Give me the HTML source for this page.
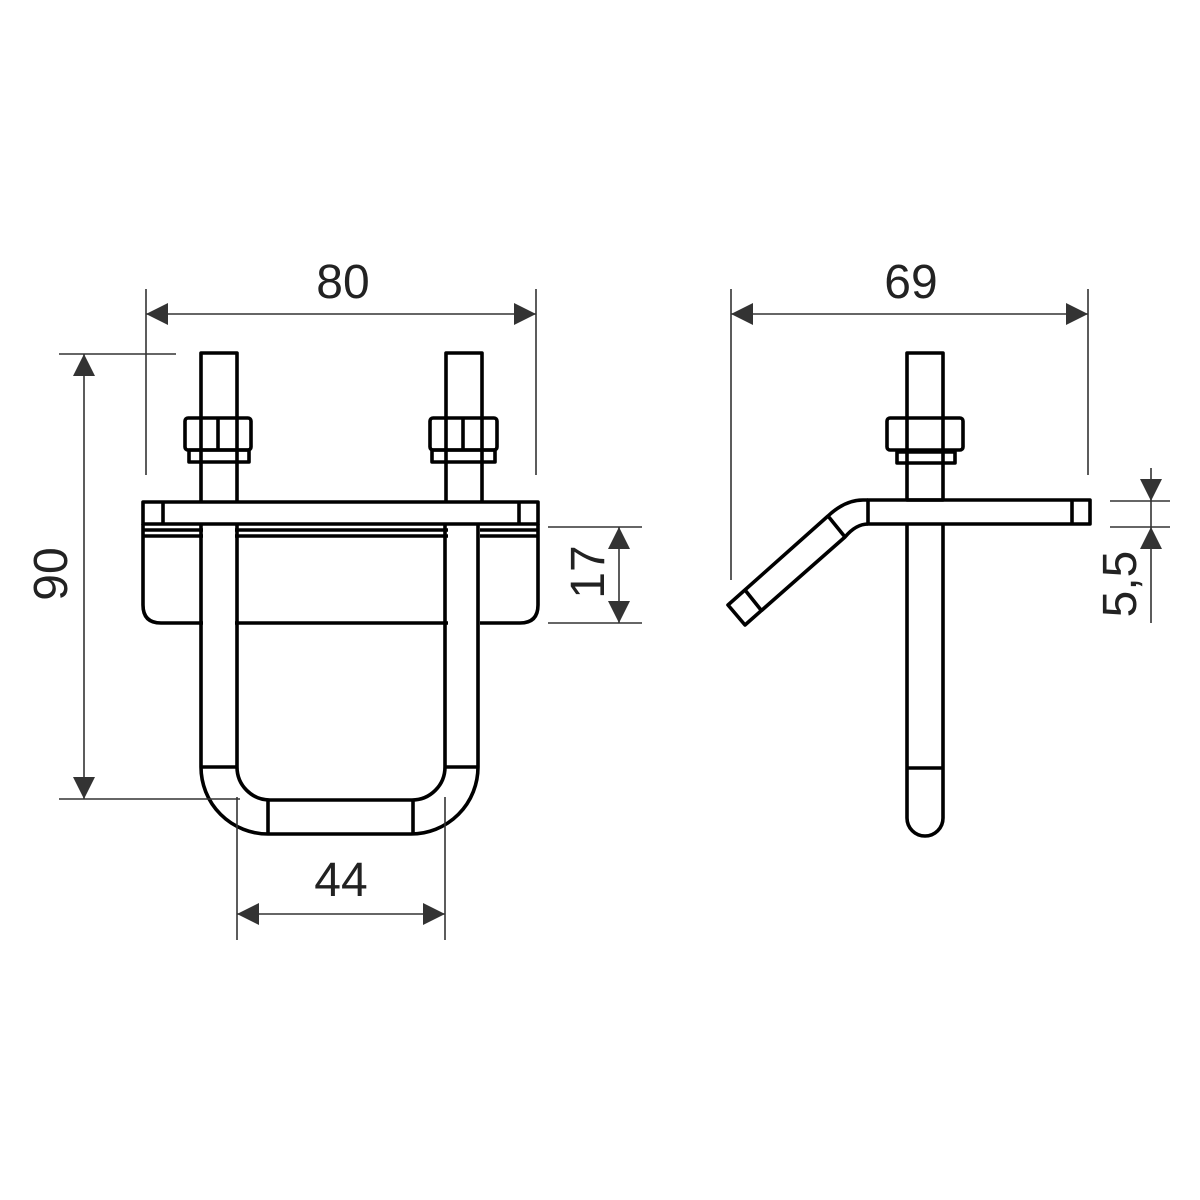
<!DOCTYPE html>
<html><head><style>html,body{margin:0;padding:0;background:#fff}svg{display:block}</style></head>
<body>
<svg width="1200" height="1200" viewBox="0 0 1200 1200" xmlns="http://www.w3.org/2000/svg">
<defs>
<marker id="a" viewBox="0 0 22 22" refX="22" refY="11" markerWidth="22" markerHeight="22" markerUnits="userSpaceOnUse" orient="auto-start-reverse"><path d="M0,0 L22,11 L0,22 Z" fill="#333"/></marker>
</defs>
<g fill="none" stroke="#000" stroke-width="3.6" stroke-linejoin="round">
<!-- left view bolts -->
<rect x="201" y="353" width="36" height="150"/>
<rect x="446" y="353" width="36" height="150"/>
<rect x="185" y="418" width="66" height="32" rx="3"/>
<line x1="218" y1="418" x2="218" y2="450"/>
<rect x="189" y="450" width="60" height="12"/>
<rect x="430" y="418" width="67" height="32" rx="3"/>
<line x1="463" y1="418" x2="463" y2="450"/>
<rect x="432" y="450" width="63" height="12"/>
<!-- plate -->
<path d="M143,524 V605 Q143,623 161,623 H520 Q538,623 538,605 V524" fill="#fff"/>
<line x1="143" y1="530" x2="538" y2="530"/>
<line x1="143" y1="536" x2="538" y2="536"/>
<rect x="143" y="502" width="395" height="22" fill="#fff"/>
<line x1="163" y1="502" x2="163" y2="524"/>
<line x1="519" y1="502" x2="519" y2="524"/>
<!-- U bolt rods (white to hide box lines) -->
<rect x="203" y="526" width="32" height="240" fill="#fff" stroke="none"/>
<rect x="448" y="526" width="32" height="240" fill="#fff" stroke="none"/>
<path d="M201,524 V767 A67,67 0 0 0 268,834 H411 A67,67 0 0 0 478,767 V524"/>
<path d="M237,524 V767 A33,33 0 0 0 270,800 H412 A33,33 0 0 0 445,767 V524"/>
<line x1="201" y1="767" x2="237" y2="767"/>
<line x1="445" y1="767" x2="478" y2="767"/>
<line x1="268" y1="800" x2="268" y2="834"/>
<line x1="413" y1="800" x2="413" y2="834"/>
<!-- right view -->
<path d="M907,524 V818 A18,18 0 0 0 943,818 V524" fill="#fff"/>
<line x1="907" y1="768" x2="943" y2="768"/>
<rect x="907" y="353" width="36" height="147"/>
<rect x="887" y="418" width="76" height="32" rx="3"/>
<rect x="897" y="452" width="58" height="11"/>
<rect x="868" y="500" width="222" height="24"/>
<line x1="1072" y1="500" x2="1072" y2="524"/>
<path d="M868,500 H863 Q845,500 828,516 L728,605 L745,625 L845,537 Q856,524 868,524"/>
<line x1="828" y1="516" x2="845" y2="537"/>
<line x1="745" y1="590" x2="761" y2="610"/>
</g>
<g stroke="#333" stroke-width="1.6" fill="none">
<line x1="146" y1="289" x2="146" y2="475"/><line x1="536" y1="289" x2="536" y2="475"/>
<line x1="146" y1="314" x2="536" y2="314" marker-start="url(#a)" marker-end="url(#a)"/>
<line x1="731" y1="289" x2="731" y2="580"/><line x1="1088" y1="289" x2="1088" y2="475"/>
<line x1="731" y1="314" x2="1088" y2="314" marker-start="url(#a)" marker-end="url(#a)"/>
<line x1="59" y1="354" x2="176" y2="354"/><line x1="59" y1="799" x2="240" y2="799"/>
<line x1="84" y1="354" x2="84" y2="799" marker-start="url(#a)" marker-end="url(#a)"/>
<line x1="548" y1="527" x2="642" y2="527"/><line x1="548" y1="623" x2="642" y2="623"/>
<line x1="619" y1="527" x2="619" y2="623" marker-start="url(#a)" marker-end="url(#a)"/>
<line x1="237" y1="797" x2="237" y2="940"/><line x1="445" y1="797" x2="445" y2="940"/>
<line x1="237" y1="914" x2="445" y2="914" marker-start="url(#a)" marker-end="url(#a)"/>
<line x1="1110" y1="501" x2="1170" y2="501"/><line x1="1110" y1="527" x2="1170" y2="527"/>
<line x1="1151" y1="468" x2="1151" y2="623"/>
<path d="M1140,479 L1162,479 L1151,501 Z" fill="#333" stroke="none"/>
<path d="M1140,549 L1162,549 L1151,527 Z" fill="#333" stroke="none"/>
</g>
<g font-family="Liberation Sans, sans-serif" font-size="48" fill="#222" text-anchor="middle">
<text x="343" y="298">80</text>
<text x="911" y="298">69</text>
<text x="341" y="896">44</text>
<text transform="translate(67,574) rotate(-90)">90</text>
<text transform="translate(604,572) rotate(-90)">17</text>
<text transform="translate(1136,584) rotate(-90)">5,5</text>
</g>
</svg>
</body></html>
